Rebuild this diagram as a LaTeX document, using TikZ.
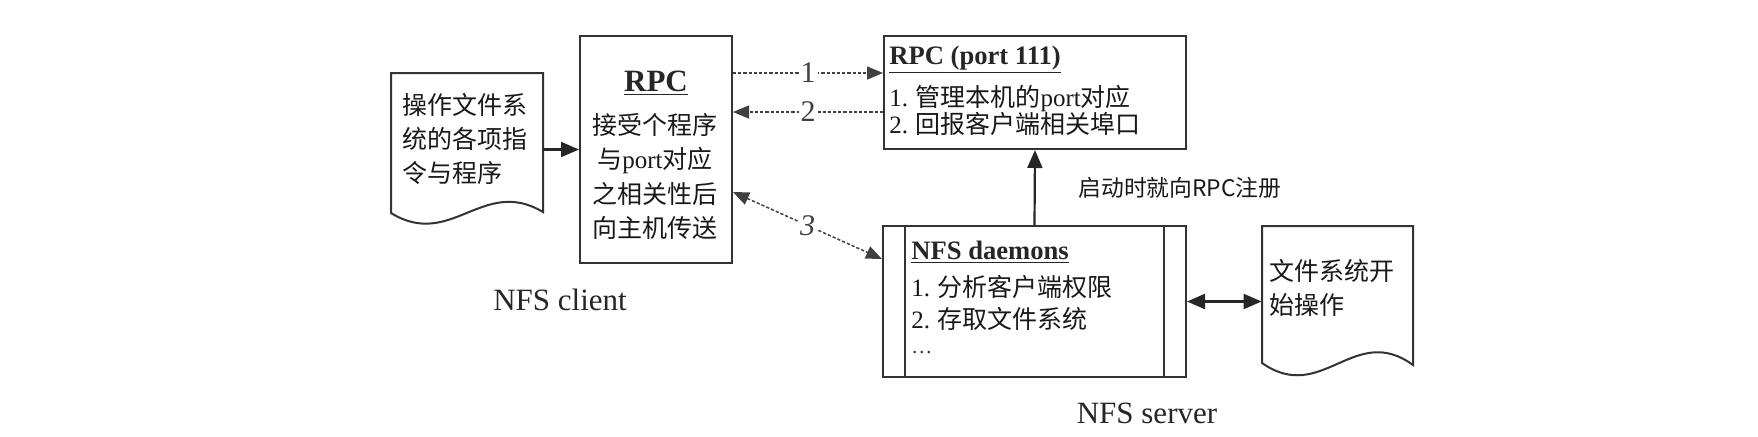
\documentclass[tikz,border=0pt]{standalone}
\usepackage{fontspec}
\setmainfont{Liberation Serif}
\newfontfamily\cjk{Noto Sans CJK SC}
\usetikzlibrary{arrows.meta,calc}
\newcommand\lat[1]{{\rmfamily #1}}
\begin{document}
\begin{tikzpicture}[x=0.5pt,y=-0.5pt,
  box/.style={draw=black!80, line width=1pt, fill=white, inner sep=0pt},
  ghost/.style={inner sep=0pt},
  docline/.style={draw=black!80, line width=1pt, fill=white},
  arr/.style={-{Triangle[length=9pt,width=7.5pt]}, line width=1.1pt, draw=black!85},
  darr/.style={{Triangle[length=9pt,width=7.5pt]}-{Triangle[length=9pt,width=7.5pt]}, line width=1.1pt, draw=black!85},
  dsh/.style={dash pattern=on 1.6pt off 1pt, line width=0.75pt, draw=black!75},
  cjkt/.style={font=\cjk\fontsize{12.5}{17}\selectfont, inner sep=0pt, text=black!90},
  ttl/.style={font=\bfseries\fontsize{13.3}{16}\selectfont, inner sep=0pt, text=black!85},
  num/.style={font=\fontsize{15}{17}\selectfont, fill=white, inner sep=1pt, text=black!75},
  captxt/.style={font=\fontsize{15.5}{18}\selectfont, inner sep=0pt, text=black!85}
]
\useasboundingbox (0,0) rectangle (1758,436);

% left document
\node[ghost, minimum width=76pt, minimum height=70pt] (ldoc) at (467,143) {};
\draw[docline] (391,73) -- (543,73) -- (543,212) .. controls (483,176) and (451,250) .. (391,213) -- cycle;
\node[cjkt, anchor=west, align=left] (ldoct) at (402,139) {操作文件系\\统的各项指\\令与程序};

% RPC client box
\node[box, minimum width=76pt, minimum height=113.5pt] (rpc) at (656,149.5) {};
\node[font=\bfseries\fontsize{15.5}{18}\selectfont, inner sep=0pt, text=black!85] (rpct) at (656,83) {\underline{RPC}};
\node[cjkt, align=center, font=\cjk\fontsize{12.5}{17.25}\selectfont] (rpcb) at (655,176.5)
  {接受个程序\\与\lat{port}对应\\之相关性后\\向主机传送};

% RPC port box
\node[box, minimum width=151pt, minimum height=56.5pt] (port) at (1035,92.5) {};
\node[ttl, anchor=west] (portt) at (889,60) {\underline{RPC (port 111)}};
\node[cjkt, anchor=west, align=left, font=\cjk\fontsize{12.5}{13.5}\selectfont] (portb) at (889,110.5)
  {\lat{1.} 管理本机的\lat{port}对应\\\lat{2.} 回报客户端相关埠口};

% NFS daemons box
\node[box, minimum width=151.5pt, minimum height=75.5pt] (nfs) at (1034.5,301.5) {};
\draw[draw=black!80, line width=1pt] ($(nfs.north west)+(23,0)$) -- ($(nfs.south west)+(23,0)$);
\draw[draw=black!80, line width=1pt] ($(nfs.north east)+(-23,0)$) -- ($(nfs.south east)+(-23,0)$);
\node[ttl, anchor=west] (nfst) at (911,252) {\underline{NFS daemons}};
\node[cjkt, anchor=west] (nfs1) at (911,287) {\lat{1.} 分析客户端权限};
\node[cjkt, anchor=west] (nfs2) at (911,319) {\lat{2.} 存取文件系统};
\node[inner sep=0pt, anchor=base west, font=\fontsize{10.5}{12}\selectfont, text=black!80] (nfs3) at (911,353) {…};

% right document
\node[ghost, minimum width=75.5pt, minimum height=68.5pt] (rdoc) at (1337.5,294.5) {};
\draw[docline] (1262,226) -- (1413,226) -- (1413,365) .. controls (1354,322) and (1322,405) .. (1262,363) -- cycle;
\node[cjkt, anchor=west, align=left] (rdoct) at (1269,288) {文件系统开\\始操作};

% labels
\node[cjkt, anchor=west, font=\cjk\fontsize{11.4}{14}\selectfont] (reg) at (1078,188) {启动时就向RPC注册};
\node[captxt] (client) at (560,300) {NFS client};
\node[captxt] (server) at (1147,413) {NFS server};

% connectors
\coordinate (y1) at (0,73);
\coordinate (y2) at (0,112);
\coordinate (y3a) at (0,192);
\coordinate (y3b) at (0,259);
\draw[arr] (rpc.west -| ldoc.east) -- (rpc.west);
\draw[dsh, -{Triangle[length=8pt,width=6.5pt]}] (rpc.east |- y1) -- node[num] {1} (port.west |- y1);
\draw[dsh, -{Triangle[length=8pt,width=6.5pt]}] (port.west |- y2) -- node[num] {2} (rpc.east |- y2);
\draw[dsh, {Triangle[length=8pt,width=6.5pt]}-{Triangle[length=8pt,width=6.5pt]}] (rpc.east |- y3a) -- node[num, font=\itshape\fontsize{15}{17}\selectfont] {3} (nfs.west |- y3b);
\draw[arr] (nfs.north) -- (port.south);
\draw[darr] (nfs.east) -- (nfs.east -| rdoc.west);
\end{tikzpicture}
\end{document}
